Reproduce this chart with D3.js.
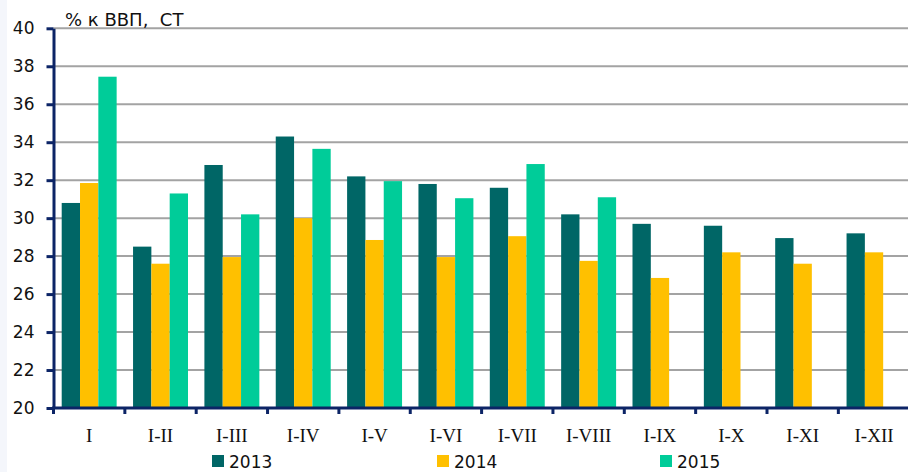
<!DOCTYPE html>
<html>
<head>
<meta charset="utf-8">
<script src="https://cdn.jsdelivr.net/npm/d3@7"></script>
<style>
  body { margin: 0; background: #fff; }
  svg { display: block; }
</style>
</head>
<body>
<svg id="chart" width="908" height="472"></svg>
<script>
const categories = ['I', 'I-II', 'I-III', 'I-IV', 'I-V', 'I-VI', 'I-VII', 'I-VIII', 'I-IX', 'I-X', 'I-XI', 'I-XII'];
const years = ['2013', '2014', '2015'];

const values2013 = [30.8, 28.5, 32.8, 34.3, 32.2, 31.8, 31.6, 30.2, 29.7, 29.6, 28.95, 29.2];
const values2014 = [31.85, 27.6, 27.95, 30.0, 28.85, 27.95, 29.05, 27.75, 26.85, 28.2, 27.6, 28.2];
const values2015 = [37.45, 31.3, 30.2, 33.65, 31.95, 31.05, 32.85, 31.1, null, null, null, null];

const yTicks = [20, 22, 24, 26, 28, 30, 32, 34, 36, 38, 40];

const colors = { '2013': '#006666', '2014': '#ffc000', '2015': '#00cc99' };
const axisColor = '#0c2466';

const series = { '2013': values2013, '2014': values2014, '2015': values2015 };

const svg = d3.select('#chart');

// light strip on the left edge
svg.append('rect')
    .attr('x', 0).attr('y', 0)
    .attr('width', 7).attr('height', 472)
    .attr('fill', '#f4f6fb');

const plotLeft = 53.5;
const plotTop = 28.3;
const plotBottom = 408;
const step = 71.35;

const x0 = d3.scaleBand()
    .domain(categories)
    .range([plotLeft, plotLeft + step * categories.length])
    .padding(0);

const x1 = d3.scaleBand()
    .domain(years)
    .range([8.2, step - 8.2])
    .padding(0);

const y = d3.scaleLinear()
    .domain([20, 40])
    .range([plotBottom, plotTop]);

// gridlines
svg.append('g')
    .selectAll('line')
    .data(yTicks.slice(1))
    .enter()
    .append('line')
    .attr('x1', plotLeft)
    .attr('x2', 908)
    .attr('y1', d => y(d))
    .attr('y2', d => y(d))
    .attr('stroke', '#a3a3a3')
    .attr('stroke-width', 2);

// bars
const rows = categories.map((c, i) => ({
    cat: c,
    vals: years.map(yr => ({ year: yr, value: series[yr][i] }))
}));

svg.append('g')
    .selectAll('g')
    .data(rows)
    .enter()
    .append('g')
    .attr('transform', d => `translate(${x0(d.cat)},0)`)
    .selectAll('rect')
    .data(d => d.vals.filter(v => v.value != null))
    .enter()
    .append('rect')
    .attr('x', d => x1(d.year))
    .attr('width', x1.bandwidth())
    .attr('y', d => y(d.value))
    .attr('height', d => y(20) - y(d.value))
    .attr('fill', d => colors[d.year]);

// y axis
const yAxis = svg.append('g')
    .attr('transform', `translate(${plotLeft},0)`)
    .call(d3.axisLeft(y).tickValues(yTicks).tickSize(7).tickSizeOuter(0).tickPadding(12));

yAxis.select('.domain')
    .attr('stroke', axisColor)
    .attr('stroke-width', 3);
yAxis.selectAll('.tick line')
    .attr('stroke', axisColor)
    .attr('stroke-width', 3);
yAxis.selectAll('.tick text')
    .attr('fill', '#111')
    .style('font-family', '"DejaVu Sans", Verdana, sans-serif')
    .style('font-size', '17px');

// x axis
const xAxis = svg.append('g')
    .attr('transform', `translate(0,${plotBottom})`);

xAxis.append('line')
    .attr('x1', plotLeft - 1.5)
    .attr('x2', 908)
    .attr('y1', 0)
    .attr('y2', 0)
    .attr('stroke', axisColor)
    .attr('stroke-width', 3);

xAxis.selectAll('line.tk')
    .data(categories)
    .enter()
    .append('line')
    .attr('class', 'tk')
    .attr('x1', d => x0(d))
    .attr('x2', d => x0(d))
    .attr('y1', 0)
    .attr('y2', 6)
    .attr('stroke', axisColor)
    .attr('stroke-width', 3);

xAxis.selectAll('text')
    .data(categories)
    .enter()
    .append('text')
    .attr('x', d => x0(d) + x0.bandwidth() / 2)
    .attr('y', 34)
    .attr('text-anchor', 'middle')
    .attr('fill', '#111')
    .style('font-family', '"Liberation Serif", "Times New Roman", serif')
    .style('font-size', '19px')
    .text(d => d);

// unit label
svg.append('text')
    .attr('x', 65)
    .attr('y', 26)
    .attr('fill', '#111')
    .style('font-family', '"DejaVu Sans", Verdana, sans-serif')
    .style('font-size', '18px')
    .style('white-space', 'pre')
    .text('% к ВВП,  СТ');

// legend
const legendX = [212, 437, 660];
const legend = svg.append('g')
    .selectAll('g')
    .data(years)
    .enter()
    .append('g')
    .attr('transform', (d, i) => `translate(${legendX[i]},455)`);

legend.append('rect')
    .attr('width', 12)
    .attr('height', 12)
    .attr('fill', d => colors[d]);

legend.append('text')
    .attr('x', 17)
    .attr('y', 13)
    .attr('fill', '#111')
    .style('font-family', '"DejaVu Sans", Verdana, sans-serif')
    .style('font-size', '17px')
    .text(d => d);
</script>
</body>
</html>
